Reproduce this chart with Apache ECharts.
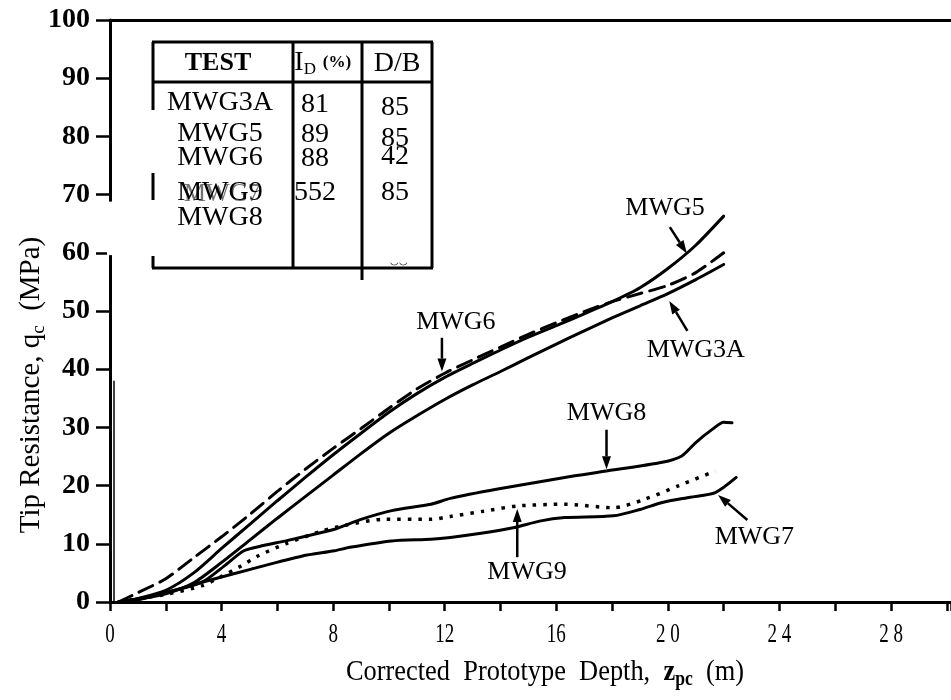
<!DOCTYPE html>
<html><head><meta charset="utf-8">
<script src="https://cdn.jsdelivr.net/npm/echarts@6/dist/echarts.min.js"></script>
<style>html,body{margin:0;padding:0;background:#fff}#c{width:951px;height:700px}</style>
</head><body><div id="c"></div>
<script>
// ---- data: [depth z_pc (m), tip resistance q_c (MPa)] ----
const mwg3a = [[0.3,0],[1.0,0.5],[2.0,1.4],[3.0,3.3],[4.0,6.8],[5.0,10.6],[6.0,14.4],[7.0,18.1],[8.0,21.8],[9.0,25.5],[10.0,29.0],[11.0,32.0],[12.0,34.8],[13.0,37.3],[14.0,39.6],[15.0,42.0],[16.0,44.3],[17.0,46.6],[18.0,48.8],[19.0,50.9],[20.0,53.0],[21.0,55.4],[22.0,58.0]];
const mwg5  = [[0.3,0],[1.0,0.6],[2.0,2.0],[3.0,5.0],[4.0,9.2],[5.0,13.3],[6.0,17.4],[7.0,21.4],[8.0,25.3],[9.0,29.0],[10.0,32.6],[11.0,35.8],[12.0,38.6],[13.0,41.0],[14.0,43.3],[15.0,45.5],[16.0,47.5],[17.0,49.5],[18.0,51.6],[19.0,54.0],[20.0,57.3],[21.0,61.3],[22.0,66.3]];
const mwg6  = [[0.3,0],[1.0,1.6],[2.0,4.0],[3.0,7.6],[4.0,11.2],[5.0,15.0],[6.0,19.0],[7.0,22.8],[8.0,26.4],[9.0,29.8],[10.0,33.3],[11.0,36.6],[12.0,39.3],[13.0,41.6],[14.0,43.8],[15.0,46.0],[16.0,48.0],[17.0,49.9],[18.0,51.6],[19.0,53.0],[20.0,54.4],[21.0,56.6],[22.0,60.0]];
const mwg7  = [[0.3,0],[1.0,0.4],[2.0,1.6],[3.3,3.4],[5.1,5.7],[6.9,7.9],[8.05,8.8],[8.6,9.4],[10.1,10.5],[11.5,10.8],[12.2,11.1],[13.3,11.8],[14.5,12.8],[15.4,13.9],[16.3,14.5],[18.05,14.8],[19.0,15.9],[19.8,17.1],[20.8,18.0],[21.7,18.8],[22.45,21.4]];
const mwg8  = [[0.3,0],[1.0,0.5],[2.0,1.6],[3.3,3.4],[4.1,6.2],[4.8,8.8],[5.5,9.7],[6.3,10.5],[7.2,11.5],[8.05,12.5],[9.0,14.2],[10.1,15.7],[11.5,16.8],[12.2,17.8],[13.9,19.4],[16.3,21.4],[17.8,22.5],[19.8,24.0],[20.5,25.1],[21.0,27.4],[21.6,29.7],[22.0,30.9],[22.3,30.8]];
const mwg9  = [[0.3,0],[1.1,0.6],[2.1,1.4],[3.3,2.8],[4.0,4.4],[4.7,6.2],[5.3,7.9],[6.3,10.0],[7.6,12.2],[8.45,13.2],[9.8,14.2],[11.5,14.2],[12.2,14.7],[13.4,15.6],[14.6,16.5],[16.3,16.8],[18.05,16.2],[19.2,17.7],[20.4,20.0],[21.7,22.5]];

const xTickValues = [0, 4, 8, 12, 16, 20, 24, 28];
const xTickLabels = ['0', '4', '8', '12', '16', '2 0', '2 4', '2 8'];

const tableHeader = ['TEST', 'I', 'D', '(%)', 'D/B'];
const tableTests  = ['MWG3A', 'MWG5', 'MWG6', 'MWG9', 'MWG8'];
const tableID     = ['81', '89', '88', '552', ''];
const tableDB     = ['85', '85', '42', '85', ''];

// annotation labels with arrows (data units)
const annotations = [
  {text: 'MWG5',  label: [19.9, 67.6], from: [20.07, 64.4], to: [20.68, 59.9]},
  {text: 'MWG6',  label: [12.4, 48.1], from: [11.9, 45.4],  to: [11.9, 39.6]},
  {text: 'MWG3A', label: [21.0, 43.2], from: [20.7, 46.6],  to: [20.05, 51.7]},
  {text: 'MWG8',  label: [17.8, 32.5], from: [17.8, 29.6],  to: [17.8, 22.8]},
  {text: 'MWG9',  label: [14.95, 5.2], from: [14.6, 7.7],   to: [14.6, 16.0]},
  {text: 'MWG7',  label: [23.1, 11.2], from: [22.85, 14.1], to: [21.8, 18.4]}
];

const SERIF = '"Liberation Serif", "Times New Roman", serif';
const chart = echarts.init(document.getElementById('c'), null, {renderer: 'canvas'});

function lineSeries(name, data, type, width) {
  return {
    name, type: 'line', data, showSymbol: false, smooth: 0.25, silent: true,
    lineStyle: {color: '#000', width: width || 3, type: type || 'solid', cap: Array.isArray(type) && type[0] < 5 ? 'butt' : 'round'},
    z: 3
  };
}

const option = {
  animation: false,
  backgroundColor: '#fff',
  grid: {left: 110, right: 0, top: 20, bottom: 98, containLabel: false},
  xAxis: [{
    type: 'value', min: 0, max: 30.15, interval: 2,
    axisLine: {show: true, onZero: false, lineStyle: {color: '#000', width: 3}},
    axisTick: {show: true, inside: false, length: 9, lineStyle: {color: '#000', width: 2.5}},
    axisLabel: {show: false},
    splitLine: {show: false}
  }, {
    type: 'value', position: 'top', min: 0, max: 30.15,
    axisLine: {show: true, onZero: false, lineStyle: {color: '#000', width: 3}},
    axisTick: {show: false}, axisLabel: {show: false}, splitLine: {show: false}
  }],
  yAxis: {
    type: 'value', min: 0, max: 100, interval: 10,
    axisLine: {show: true, onZero: false, lineStyle: {color: '#000', width: 3}},
    axisTick: {show: true, inside: false, length: 14, lineStyle: {color: '#000', width: 2.5}},
    axisLabel: {color: '#000', fontFamily: SERIF, fontWeight: 'bold', fontSize: 28, margin: 20},
    splitLine: {show: false}
  },
  series: [
    lineSeries('MWG3A', mwg3a),
    lineSeries('MWG5', mwg5),
    lineSeries('MWG6', mwg6, [15, 8]),
    lineSeries('MWG7', mwg7),
    lineSeries('MWG8', mwg8),
    lineSeries('MWG9', mwg9, [3.5, 7], 3.5)
  ]
};
chart.setOption(option);

// ---------- graphics ----------
const ctx = document.createElement('canvas').getContext('2d');
function measure(t, font) { ctx.font = font; return ctx.measureText(t).width; }
const P = (pt) => chart.convertToPixel({xAxisIndex: 0, yAxisIndex: 0}, pt);

const g = [];
function txt(t, x, y, font, align, fill) {
  return {type: 'text', z: 10, style: {text: t, x, y, font, fill: fill || '#000', align: align || 'center', verticalAlign: 'middle'}};
}
function seg(x1, y1, x2, y2, w) {
  return {type: 'line', z: 10, shape: {x1, y1, x2, y2}, style: {stroke: '#000', lineWidth: w || 3}};
}
function arrow(a, b) {
  const [x1, y1] = P(a), [x2, y2] = P(b);
  const dx = x2 - x1, dy = y2 - y1, L = Math.hypot(dx, dy), ux = dx / L, uy = dy / L;
  const hl = 13, hw = 4.5;
  const bx = x2 - ux * hl, by = y2 - uy * hl;
  g.push(seg(x1, y1, bx, by, 2.5));
  g.push({type: 'polygon', z: 10, shape: {points: [[x2, y2], [bx - uy * hw, by + ux * hw], [bx + uy * hw, by - ux * hw]]}, style: {fill: '#000'}});
}

// white gap in y axis line between 70 and 60, and a thin doubled segment near the bottom
{
  const [ax, yTop] = P([0, 68.8]); const [, yBot] = P([0, 59.6]);
  g.push({type: 'rect', z: 9, shape: {x: ax - 3, y: yTop, width: 6, height: yBot - yTop}, style: {fill: '#fff'}});
  const [, y38] = P([0, 38]); const [, y0] = P([0, 0]);
  g.push(seg(ax + 4, y38, ax + 4, y0, 1.5));
}

// annotations
annotations.forEach(a => {
  const [lx, ly] = P(a.label);
  g.push(txt(a.text, lx, ly, '26px ' + SERIF));
  arrow(a.from, a.to);
});

// x tick labels (condensed)
xTickValues.forEach((v, i) => {
  const [px, py] = P([v, 0]);
  g.push({type: 'text', z: 10, x: px, y: py + 33, scaleX: 0.68, style: {text: xTickLabels[i], x: 0, y: 0, font: '28px ' + SERIF, fill: '#000', align: 'center', verticalAlign: 'middle'}});
});

function richLine(parts, cx, cy, extra) {
  const total = parts.reduce((s, p) => s + measure(p.t, p.font), 0);
  let x = -total / 2;
  const children = parts.map(p => {
    const w = measure(p.t, p.font);
    const el = {type: 'text', style: {text: p.t, x, y: p.dy || 0, font: p.font, fill: '#000', align: 'left', verticalAlign: 'middle'}};
    x += w; return el;
  });
  return Object.assign({type: 'group', x: cx, y: cy, z: 10, children}, extra || {});
}
// x axis name (condensed)
g.push(richLine([
  {t: 'Corrected  Prototype  Depth,  ', font: '30px ' + SERIF},
  {t: 'z', font: 'bold 30px ' + SERIF},
  {t: 'pc', font: 'bold 20px ' + SERIF, dy: 8},
  {t: '  (m)', font: '30px ' + SERIF}
], 545, 672, {scaleX: 0.88}));

// y axis name (rotated)
g.push(richLine([
  {t: 'Tip Resistance, q', font: '29px ' + SERIF},
  {t: 'c', font: '19px ' + SERIF, dy: 8},
  {t: '  (MPa)', font: '29px ' + SERIF}
], 31, 385, {rotation: Math.PI / 2}));

// table
const T = {l: 153, c1: 293, c2: 362, r: 432, top: 42, hb: 82, bot: 268};
g.push(seg(T.l - 1, T.top, T.r + 1, T.top));
g.push(seg(T.l, T.hb, T.r, T.hb));
g.push(seg(T.l - 1, T.bot, T.r + 1, T.bot));
g.push(seg(T.l, T.top, T.l, 110));
g.push(seg(T.l, 173, T.l, 200));
g.push(seg(T.l, 256, T.l, T.bot));
g.push(seg(T.c1, T.top, T.c1, T.bot));
g.push(seg(T.c2, T.top, T.c2, 280));
g.push(seg(T.r, T.top, T.r, T.bot));

g.push(txt(tableHeader[0], 218, 63, 'bold 26px ' + SERIF));
g.push(txt(tableHeader[1], 299, 63, '28px ' + SERIF));
g.push(txt(tableHeader[2], 310, 70, '17px ' + SERIF));
g.push(txt(tableHeader[3], 337, 63, 'bold 17px ' + SERIF));
g.push(txt(tableHeader[4], 397, 64, '28px ' + SERIF));

const rowY = [103, 134, 158, 193, 218];
const idY  = [105, 135, 159, 193, 218];
const dbY  = [108, 139, 157, 193, 218];
// overlapped ghost text in row 4 (scan artefact)
g.push(txt('MWG7', 222, 194, '25px ' + SERIF, 'center', 'rgba(0,0,0,0.55)'));
tableTests.forEach((t, i) => {
  g.push(txt(t, 220, rowY[i], '28px ' + SERIF));
  if (tableID[i]) g.push(txt(tableID[i], 315, idY[i], '28px ' + SERIF));
  if (tableDB[i]) g.push(txt(tableDB[i], 395, dbY[i], '28px ' + SERIF));
});
g.push(txt('‿‿', 399, 258, '14px ' + SERIF));

chart.setOption({graphic: g});
</script>
</body></html>
